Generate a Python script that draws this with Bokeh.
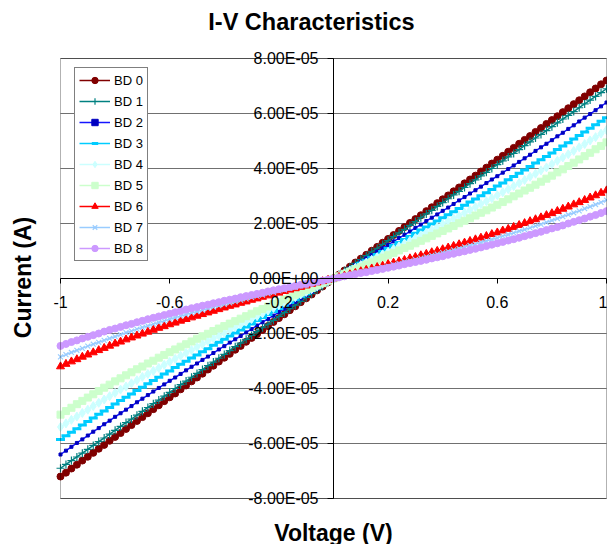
from bokeh.plotting import figure
from bokeh.models import FixedTicker, CustomJSTickFormatter, Legend, LegendItem, Label, BoxAnnotation
from bokeh.embed import file_html
from bokeh.resources import INLINE

# ---------------- data (voltage in V, current in units of 1e-5 A) ----------------
voltage = [
    -1.00, -0.98, -0.96, -0.94, -0.92, -0.90, -0.88, -0.86, -0.84, -0.82,
    -0.80, -0.78, -0.76, -0.74, -0.72, -0.70, -0.68, -0.66, -0.64, -0.62,
    -0.60, -0.58, -0.56, -0.54, -0.52, -0.50, -0.48, -0.46, -0.44, -0.42,
    -0.40, -0.38, -0.36, -0.34, -0.32, -0.30, -0.28, -0.26, -0.24, -0.22,
    -0.20, -0.18, -0.16, -0.14, -0.12, -0.10, -0.08, -0.06, -0.04, -0.02,
    0.00,
    0.02, 0.04, 0.06, 0.08, 0.10, 0.12, 0.14, 0.16, 0.18, 0.20,
    0.22, 0.24, 0.26, 0.28, 0.30, 0.32, 0.34, 0.36, 0.38, 0.40,
    0.42, 0.44, 0.46, 0.48, 0.50, 0.52, 0.54, 0.56, 0.58, 0.60,
    0.62, 0.64, 0.66, 0.68, 0.70, 0.72, 0.74, 0.76, 0.78, 0.80,
    0.82, 0.84, 0.86, 0.88, 0.90, 0.92, 0.94, 0.96, 0.98, 1.00,
]

bd0 = [
    -7.20, -7.06, -6.91, -6.77, -6.62, -6.48, -6.34, -6.19, -6.05, -5.90,
    -5.76, -5.62, -5.47, -5.33, -5.18, -5.04, -4.90, -4.75, -4.61, -4.46,
    -4.32, -4.18, -4.03, -3.89, -3.74, -3.60, -3.46, -3.31, -3.17, -3.02,
    -2.88, -2.74, -2.59, -2.45, -2.30, -2.16, -2.02, -1.87, -1.73, -1.58,
    -1.44, -1.30, -1.15, -1.01, -0.86, -0.72, -0.58, -0.43, -0.29, -0.14,
    0.00,
    0.14, 0.29, 0.43, 0.58, 0.72, 0.86, 1.01, 1.15, 1.30, 1.44,
    1.58, 1.73, 1.87, 2.02, 2.16, 2.30, 2.45, 2.59, 2.74, 2.88,
    3.02, 3.17, 3.31, 3.46, 3.60, 3.74, 3.89, 4.03, 4.18, 4.32,
    4.46, 4.61, 4.75, 4.90, 5.04, 5.18, 5.33, 5.47, 5.62, 5.76,
    5.90, 6.05, 6.19, 6.34, 6.48, 6.62, 6.77, 6.91, 7.06, 7.20,
]

bd1 = [
    -6.90, -6.76, -6.62, -6.49, -6.35, -6.21, -6.07, -5.93, -5.80, -5.66,
    -5.52, -5.38, -5.24, -5.11, -4.97, -4.83, -4.69, -4.55, -4.42, -4.28,
    -4.14, -4.00, -3.86, -3.73, -3.59, -3.45, -3.31, -3.17, -3.04, -2.90,
    -2.76, -2.62, -2.48, -2.35, -2.21, -2.07, -1.93, -1.79, -1.66, -1.52,
    -1.38, -1.24, -1.10, -0.97, -0.83, -0.69, -0.55, -0.41, -0.28, -0.14,
    0.00,
    0.14, 0.28, 0.41, 0.55, 0.69, 0.83, 0.97, 1.10, 1.24, 1.38,
    1.52, 1.66, 1.79, 1.93, 2.07, 2.21, 2.35, 2.48, 2.62, 2.76,
    2.90, 3.04, 3.17, 3.31, 3.45, 3.59, 3.73, 3.86, 4.00, 4.14,
    4.28, 4.42, 4.55, 4.69, 4.83, 4.97, 5.11, 5.24, 5.38, 5.52,
    5.66, 5.80, 5.93, 6.07, 6.21, 6.35, 6.49, 6.62, 6.76, 6.90,
]

bd2 = [
    -6.40, -6.26, -6.12, -5.98, -5.85, -5.71, -5.57, -5.44, -5.30, -5.17,
    -5.03, -4.90, -4.77, -4.64, -4.50, -4.37, -4.24, -4.11, -3.98, -3.85,
    -3.72, -3.60, -3.47, -3.34, -3.21, -3.09, -2.96, -2.84, -2.71, -2.58,
    -2.46, -2.33, -2.21, -2.09, -1.96, -1.84, -1.71, -1.59, -1.47, -1.35,
    -1.22, -1.10, -0.98, -0.85, -0.73, -0.61, -0.49, -0.37, -0.24, -0.12,
    0.00,
    0.12, 0.24, 0.37, 0.49, 0.61, 0.73, 0.85, 0.98, 1.10, 1.22,
    1.35, 1.47, 1.59, 1.71, 1.84, 1.96, 2.09, 2.21, 2.33, 2.46,
    2.58, 2.71, 2.84, 2.96, 3.09, 3.21, 3.34, 3.47, 3.60, 3.72,
    3.85, 3.98, 4.11, 4.24, 4.37, 4.50, 4.64, 4.77, 4.90, 5.03,
    5.17, 5.30, 5.44, 5.57, 5.71, 5.85, 5.98, 6.12, 6.26, 6.40,
]

bd3 = [
    -5.85, -5.72, -5.59, -5.46, -5.33, -5.20, -5.07, -4.94, -4.82, -4.69,
    -4.56, -4.44, -4.32, -4.20, -4.07, -3.95, -3.83, -3.71, -3.59, -3.47,
    -3.36, -3.24, -3.12, -3.01, -2.89, -2.78, -2.66, -2.55, -2.43, -2.32,
    -2.21, -2.09, -1.98, -1.87, -1.76, -1.65, -1.53, -1.42, -1.31, -1.20,
    -1.09, -0.98, -0.87, -0.76, -0.65, -0.55, -0.44, -0.33, -0.22, -0.11,
    0.00,
    0.11, 0.22, 0.33, 0.44, 0.55, 0.65, 0.76, 0.87, 0.98, 1.09,
    1.20, 1.31, 1.42, 1.53, 1.65, 1.76, 1.87, 1.98, 2.09, 2.21,
    2.32, 2.43, 2.55, 2.66, 2.78, 2.89, 3.01, 3.12, 3.24, 3.36,
    3.47, 3.59, 3.71, 3.83, 3.95, 4.07, 4.20, 4.32, 4.44, 4.56,
    4.69, 4.82, 4.94, 5.07, 5.20, 5.33, 5.46, 5.59, 5.72, 5.85,
]

bd4 = [
    -5.40, -5.27, -5.14, -5.02, -4.89, -4.77, -4.64, -4.52, -4.40, -4.28,
    -4.16, -4.04, -3.93, -3.81, -3.70, -3.58, -3.47, -3.36, -3.25, -3.14,
    -3.03, -2.92, -2.81, -2.71, -2.60, -2.49, -2.39, -2.28, -2.18, -2.08,
    -1.98, -1.87, -1.77, -1.67, -1.57, -1.47, -1.37, -1.27, -1.17, -1.07,
    -0.97, -0.88, -0.78, -0.68, -0.58, -0.49, -0.39, -0.29, -0.19, -0.10,
    0.00,
    0.10, 0.19, 0.29, 0.39, 0.49, 0.58, 0.68, 0.78, 0.88, 0.97,
    1.07, 1.17, 1.27, 1.37, 1.47, 1.57, 1.67, 1.77, 1.87, 1.98,
    2.08, 2.18, 2.28, 2.39, 2.49, 2.60, 2.71, 2.81, 2.92, 3.03,
    3.14, 3.25, 3.36, 3.47, 3.58, 3.70, 3.81, 3.93, 4.04, 4.16,
    4.28, 4.40, 4.52, 4.64, 4.77, 4.89, 5.02, 5.14, 5.27, 5.40,
]

bd5 = [
    -4.95, -4.82, -4.70, -4.57, -4.45, -4.33, -4.21, -4.09, -3.97, -3.86,
    -3.74, -3.63, -3.52, -3.41, -3.30, -3.20, -3.09, -2.99, -2.88, -2.78,
    -2.68, -2.58, -2.48, -2.39, -2.29, -2.19, -2.10, -2.01, -1.91, -1.82,
    -1.73, -1.64, -1.55, -1.46, -1.37, -1.28, -1.19, -1.11, -1.02, -0.93,
    -0.85, -0.76, -0.68, -0.59, -0.51, -0.42, -0.34, -0.25, -0.17, -0.08,
    0.00,
    0.08, 0.17, 0.25, 0.34, 0.42, 0.51, 0.59, 0.68, 0.76, 0.85,
    0.93, 1.02, 1.11, 1.19, 1.28, 1.37, 1.46, 1.55, 1.64, 1.73,
    1.82, 1.91, 2.01, 2.10, 2.19, 2.29, 2.39, 2.48, 2.58, 2.68,
    2.78, 2.88, 2.99, 3.09, 3.20, 3.30, 3.41, 3.52, 3.63, 3.74,
    3.86, 3.97, 4.09, 4.21, 4.33, 4.45, 4.57, 4.70, 4.82, 4.95,
]

bd6 = [
    -3.20, -3.11, -3.02, -2.94, -2.85, -2.77, -2.69, -2.61, -2.53, -2.45,
    -2.37, -2.30, -2.22, -2.15, -2.08, -2.01, -1.94, -1.87, -1.80, -1.74,
    -1.67, -1.61, -1.54, -1.48, -1.42, -1.36, -1.30, -1.24, -1.18, -1.12,
    -1.06, -1.00, -0.95, -0.89, -0.84, -0.78, -0.73, -0.67, -0.62, -0.57,
    -0.52, -0.46, -0.41, -0.36, -0.31, -0.26, -0.20, -0.15, -0.10, -0.05,
    0.00,
    0.05, 0.10, 0.15, 0.20, 0.26, 0.31, 0.36, 0.41, 0.46, 0.52,
    0.57, 0.62, 0.67, 0.73, 0.78, 0.84, 0.89, 0.95, 1.00, 1.06,
    1.12, 1.18, 1.24, 1.30, 1.36, 1.42, 1.48, 1.54, 1.61, 1.67,
    1.74, 1.80, 1.87, 1.94, 2.01, 2.08, 2.15, 2.22, 2.30, 2.37,
    2.45, 2.53, 2.61, 2.69, 2.77, 2.85, 2.94, 3.02, 3.11, 3.20,
]

bd7 = [
    -2.85, -2.77, -2.69, -2.61, -2.54, -2.46, -2.39, -2.32, -2.25, -2.18,
    -2.11, -2.04, -1.97, -1.91, -1.84, -1.78, -1.72, -1.66, -1.60, -1.54,
    -1.48, -1.42, -1.37, -1.31, -1.25, -1.20, -1.15, -1.09, -1.04, -0.99,
    -0.94, -0.89, -0.84, -0.79, -0.74, -0.69, -0.64, -0.60, -0.55, -0.50,
    -0.45, -0.41, -0.36, -0.32, -0.27, -0.23, -0.18, -0.14, -0.09, -0.05,
    0.00,
    0.05, 0.09, 0.14, 0.18, 0.23, 0.27, 0.32, 0.36, 0.41, 0.45,
    0.50, 0.55, 0.60, 0.64, 0.69, 0.74, 0.79, 0.84, 0.89, 0.94,
    0.99, 1.04, 1.09, 1.15, 1.20, 1.25, 1.31, 1.37, 1.42, 1.48,
    1.54, 1.60, 1.66, 1.72, 1.78, 1.84, 1.91, 1.97, 2.04, 2.11,
    2.18, 2.25, 2.32, 2.39, 2.46, 2.54, 2.61, 2.69, 2.77, 2.85,
]

bd8 = [
    -2.45, -2.38, -2.31, -2.25, -2.18, -2.12, -2.06, -2.00, -1.93, -1.87,
    -1.82, -1.76, -1.70, -1.65, -1.59, -1.54, -1.48, -1.43, -1.38, -1.33,
    -1.28, -1.23, -1.18, -1.13, -1.08, -1.04, -0.99, -0.95, -0.90, -0.86,
    -0.81, -0.77, -0.73, -0.68, -0.64, -0.60, -0.56, -0.52, -0.47, -0.43,
    -0.39, -0.35, -0.31, -0.27, -0.23, -0.20, -0.16, -0.12, -0.08, -0.04,
    0.00,
    0.04, 0.08, 0.12, 0.16, 0.20, 0.23, 0.27, 0.31, 0.35, 0.39,
    0.43, 0.47, 0.52, 0.56, 0.60, 0.64, 0.68, 0.73, 0.77, 0.81,
    0.86, 0.90, 0.95, 0.99, 1.04, 1.08, 1.13, 1.18, 1.23, 1.28,
    1.33, 1.38, 1.43, 1.48, 1.54, 1.59, 1.65, 1.70, 1.76, 1.82,
    1.87, 1.93, 2.00, 2.06, 2.12, 2.18, 2.25, 2.31, 2.38, 2.45,
]

CURRENT_UNIT = 1e-5  # the current lists above are in units of 1e-5 A

series_names = ["BD 0", "BD 1", "BD 2", "BD 3", "BD 4", "BD 5", "BD 6", "BD 7", "BD 8"]
series_values = [bd0, bd1, bd2, bd3, bd4, bd5, bd6, bd7, bd8]

x_min, x_max = -1.0, 1.0
y_min, y_max = -8e-5, 8e-5
x_ticks = [-1.0, -0.6, -0.2, 0.2, 0.6, 1.0]
x_tick_labels = ["-1", "-0.6", "-0.2", "0.2", "0.6", "1"]
y_ticks = [-8e-5, -6e-5, -4e-5, -2e-5, 0.0, 2e-5, 4e-5, 6e-5, 8e-5]
y_tick_labels = ["-8.00E-05", "-6.00E-05", "-4.00E-05", "-2.00E-05", "0.00E+00",
                 "2.00E-05", "4.00E-05", "6.00E-05", "8.00E-05"]

chart_title = "I-V Characteristics"
x_title = "Voltage (V)"
y_title = "Current (A)"

# ---------------- layout (pixels) ----------------
W, H = 607, 544
BOX_L, BOX_R, BOX_T, BOX_B = 60, 606, 58, 498   # plot-area box in page pixels
FONT = "Liberation Sans"

# ranges chosen so that the whole canvas is the frame and the box lands on BOX_*
px_per_x = (BOX_R - BOX_L) / (x_max - x_min)
px_per_y = (BOX_B - BOX_T) / (y_max - y_min)
xr = (x_min - BOX_L / px_per_x, x_max + (W - BOX_R) / px_per_x)
yr = (y_min - (H - BOX_B) / px_per_y, y_max + BOX_T / px_per_y)

styles = [
    dict(color="#800000", marker="circle", size=7, fill="#800000", mlw=1, lw=1.5),
    dict(color="#008080", marker="cross", size=8, fill="#008080", mlw=1.2, lw=1.5),
    dict(color="#1515FF", marker="square", size=3, fill="#0000C0", mlw=1, lw=1.5),
    dict(color="#00CCFF", marker="dash", size=9, fill="#00CCFF", mlw=3, lw=1.5),
    dict(color="#CCFFFF", marker="diamond", size=9, fill="#CCFFFF", mlw=1, lw=1.5),
    dict(color="#CCFFCC", marker="square", size=7, fill="#CCFFCC", mlw=1, lw=1.5),
    dict(color="#FF0000", marker="triangle", size=8, fill="#FF0000", mlw=1, lw=1.5),
    dict(color="#99CCFF", marker="x", size=7, fill="#99CCFF", mlw=1.2, lw=1.5),
    dict(color="#CC99FF", marker="circle", size=7, fill="#CC99FF", mlw=1, lw=1.5),
]

for vals in series_values:
    if len(vals) != len(voltage):
        raise ValueError("length mismatch")

p = figure(width=W, height=H, x_range=xr, y_range=yr,
           output_backend="svg", toolbar_location=None, min_border=0)
p.background_fill_color = "white"
p.border_fill_color = "white"
p.outline_line_color = None
p.xgrid.visible = False
p.ygrid.visible = False

# horizontal gridlines only across the plot area
p.segment(x0=[x_min] * len(y_ticks), x1=[x_max] * len(y_ticks), y0=y_ticks, y1=y_ticks,
          line_color="#707070", line_width=1)

fmt_code = """
let best = -1;
for (let i = 0; i < tick_values.length; i++) {
  if (Math.abs(tick_values[i] - tick) <= tol) { best = i; break; }
}
return best >= 0 ? tick_labels[best] : "";
"""

xa = p.xaxis[0]
xa.fixed_location = 0
xa.bounds = (x_min, x_max)
xa.ticker = FixedTicker(ticks=x_ticks)
xa.formatter = CustomJSTickFormatter(args=dict(tick_values=x_ticks, tick_labels=x_tick_labels, tol=1e-6), code=fmt_code)
xa.major_tick_in = 0
xa.major_tick_out = 5
xa.minor_tick_line_color = None
xa.axis_line_color = "black"
xa.major_tick_line_color = "black"
xa.major_label_standoff = 12
xa.major_label_text_font = FONT
xa.major_label_text_font_size = "16px"
xa.major_label_text_color = "black"

ya = p.yaxis[0]
ya.fixed_location = 0
ya.bounds = (y_min, y_max)
ya.ticker = FixedTicker(ticks=y_ticks)
ya.formatter = CustomJSTickFormatter(args=dict(tick_values=y_ticks, tick_labels=y_tick_labels, tol=1e-9), code=fmt_code)
ya.major_tick_in = 0
ya.major_tick_out = 6
ya.minor_tick_line_color = None
ya.axis_line_color = "black"
ya.major_tick_line_color = "black"
ya.major_label_standoff = 9
ya.major_label_text_font = FONT
ya.major_label_text_font_size = "16px"
ya.major_label_text_color = "black"

items = []
for name, vals, st in zip(series_names, series_values, styles):
    ys = [v * CURRENT_UNIT for v in vals]
    lr = p.line(voltage, ys, line_color=st["color"], line_width=st["lw"])
    sr = p.scatter(voltage, ys, marker=st["marker"], size=st["size"],
                   line_color=st["fill"], fill_color=st["fill"], line_width=st["mlw"])
    items.append(LegendItem(label=name, renderers=[lr, sr]))

# plot-area border
p.add_layout(BoxAnnotation(left=x_min, right=x_max, bottom=y_min, top=y_max,
                           fill_alpha=0, line_color="black", line_width=1))

legend = Legend(items=items, location=(74, H - 261), padding=4, spacing=5, margin=0,
                glyph_width=31, glyph_height=16, label_height=16, label_standoff=4,
                label_text_font=FONT, label_text_font_size="13px", label_text_color="black",
                border_line_color="black", border_line_width=1,
                background_fill_color="white", background_fill_alpha=1.0)
p.add_layout(legend)

# titles (screen units: from the canvas' bottom-left corner)
p.add_layout(Label(x=311, y=H - 21, x_units="screen", y_units="screen", text=chart_title,
                   text_align="center", text_baseline="middle", text_font=FONT,
                   text_font_size="23.5px", text_font_style="bold", text_color="black"))
p.add_layout(Label(x=333, y=H - 532, x_units="screen", y_units="screen", text=x_title,
                   text_align="center", text_baseline="middle", text_font=FONT,
                   text_font_size="23px", text_font_style="bold", text_color="black"))
p.add_layout(Label(x=22, y=H - 277, x_units="screen", y_units="screen", text=y_title,
                   angle=90, angle_units="deg",
                   text_align="center", text_baseline="middle", text_font=FONT,
                   text_font_size="23px", text_font_style="bold", text_color="black"))

open("out.html", "w").write(file_html(p, INLINE))
